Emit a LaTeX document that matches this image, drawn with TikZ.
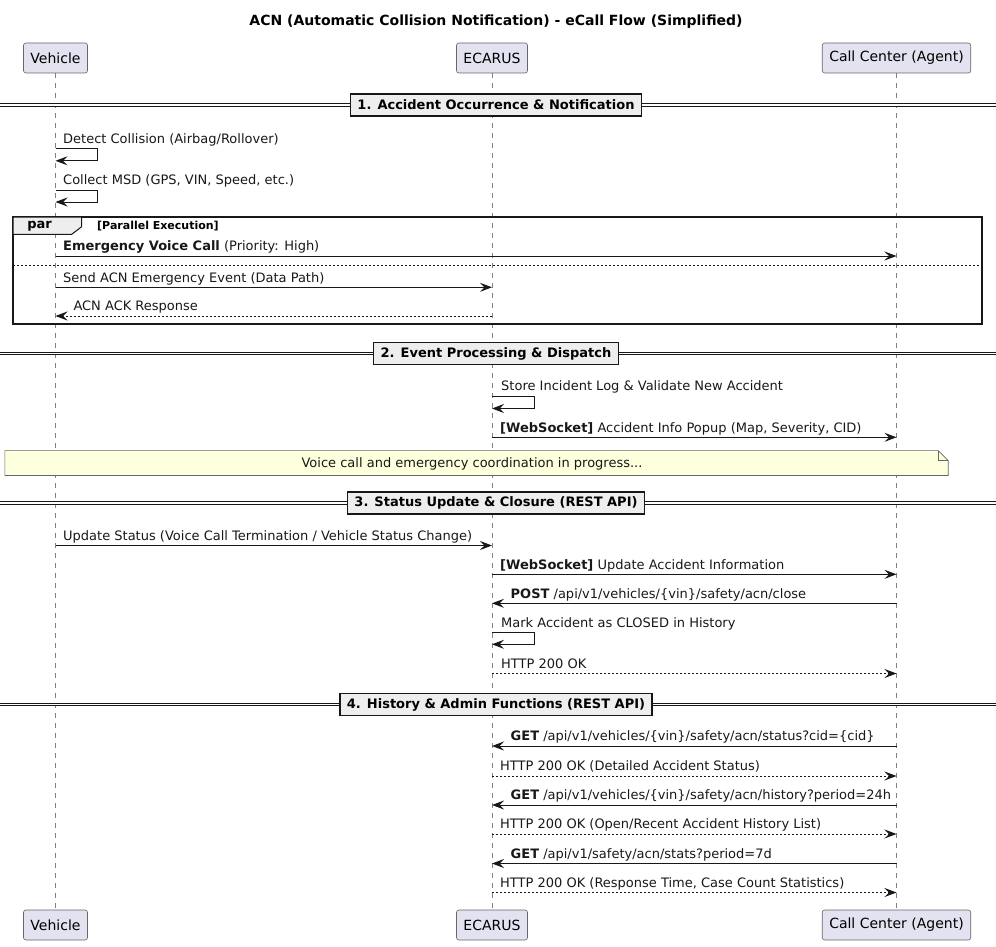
\documentclass[tikz,border=0pt]{standalone}
\usepackage{fontspec}
\setmainfont{DejaVu Sans}
\usetikzlibrary{arrows.meta}

\definecolor{partfill}{HTML}{E2E2F0}
\definecolor{linecol}{HTML}{181818}
\definecolor{grpfill}{HTML}{EEEEEE}
\definecolor{notefill}{HTML}{FEFFDD}

\begin{document}
\begin{tikzpicture}[
    x=1pt, y=-1pt,
    part/.style={draw=gray!80!black, line width=0.6pt, fill=partfill, rounded corners=2.5pt,
        minimum height=30pt, inner xsep=7pt, font=\fontsize{14}{16}\selectfont},
    life/.style={draw=gray, line width=0.6pt, dash pattern=on 5pt off 5pt},
    msg/.style={draw=linecol, line width=1pt, -{Stealth[length=12pt, width=9pt, inset=4.5pt]}},
    reply/.style={msg, dash pattern=on 2pt off 2pt},
    lbl/.style={anchor=south west, inner xsep=0pt, inner ysep=2pt, text height=10pt,
        text depth=3pt, font=\fontsize{13}{15}\selectfont, text=linecol},
    sect/.style={draw=linecol, line width=1.5pt, fill=grpfill, minimum height=22pt,
        inner xsep=7pt, font=\bfseries\fontsize{13}{15}\selectfont},
    sepline/.style={draw=linecol, double, double distance=1.8pt, line width=1pt}
]
\useasboundingbox (0,0) rectangle (996,947);
\coordinate (L) at (0,0);
\coordinate (R) at (996,0);

% title
\node[font=\bfseries\fontsize{14}{16}\selectfont] (title) at (496,22)
    {ACN (Automatic Collision Notification) - eCall Flow (Simplified)};

% participants
\node[part] (vehT) at (55.5,58) {Vehicle};
\node[part] (ecaT) at (492,58) {ECARUS};
\node[part] (ccT) at (896.5,58) {Call Center (Agent)};
\node[part] (vehB) at (55.5,925) {Vehicle};
\node[part] (ecaB) at (492,925) {ECARUS};
\node[part] (ccB) at (896.5,925) {Call Center (Agent)};

\draw[life] (vehT) -- (vehB);
\draw[life] (ecaT) -- (ecaB);
\draw[life] (ccT) -- (ccB);

% 1. accident occurrence
\node[sect] (sec1) at (496,105) {1. Accident Occurrence \& Notification};
\draw[sepline] (L |- sec1) -- (sec1.west);
\draw[sepline] (sec1.east) -- (R |- sec1);

\node[lbl] (detect) at (63,148.3) {Detect Collision (Airbag/Rollover)};
\draw[msg] (vehT |- detect.south) -- ++(42,0) -- ++(0,12.5) -- ++(-42,0);
\node[lbl] (collect) at (63,190) {Collect MSD (GPS, VIN, Speed, etc.)};
\draw[msg] (vehT |- collect.south) -- ++(42,0) -- ++(0,12) -- ++(-42,0);

% par block
\coordinate (parNW) at (13,217);
\coordinate (parSE) at (982,324);
\draw[linecol, line width=1.5pt] (parNW) rectangle (parSE);
\draw[linecol, line width=1pt, fill=grpfill] (parNW) -- (81.7,217) -- (81.7,226.7)
    -- (71.7,234.3) -- (13,234.3) -- cycle;
\node[font=\bfseries\fontsize{13}{15}\selectfont] (partag) at (39.5,226) {par};
\node[anchor=west, inner sep=0pt, font=\bfseries\fontsize{11}{13}\selectfont] (guard)
    at (97,226) {[Parallel Execution]};

\node[lbl] (voice) at (63,256) {{\bfseries Emergency Voice Call} (Priority: High)};
\draw[msg] (vehT |- voice.south) -- (ccT |- voice.south);
\draw[linecol, line width=0.7pt, dash pattern=on 2pt off 2pt] (13,265.7) -- (982,265.7);
\node[lbl] (send) at (63,287.3) {Send ACN Emergency Event (Data Path)};
\draw[msg] (vehT |- send.south) -- (ecaT |- send.south);
\node[lbl] (ack) at (73.3,316) {ACN ACK Response};
\draw[reply] (ecaT |- ack.south) -- (vehT |- ack.south);

% 2. event processing
\node[sect] (sec2) at (496,353.5) {2. Event Processing \& Dispatch};
\draw[sepline] (L |- sec2) -- (sec2.west);
\draw[sepline] (sec2.east) -- (R |- sec2);

\node[lbl] (store) at (501,396) {Store Incident Log \& Validate New Accident};
\draw[msg] (ecaT |- store.south) -- ++(42,0) -- ++(0,12.5) -- ++(-42,0);
\node[lbl] (popup) at (500,437.3) {{\bfseries [WebSocket]} Accident Info Popup (Map, Severity, CID)};
\draw[msg] (ecaT |- popup.south) -- (ccT |- popup.south);

% note
\node[minimum width=943pt, minimum height=24.5pt, inner sep=0pt] (prog) at (476.5,463) {};
\draw[draw=gray!80!black, line width=0.6pt, fill=notefill] (prog.north west)
    -- ([xshift=-10pt]prog.north east) -- ([yshift=-10pt]prog.north east)
    -- (prog.south east) -- (prog.south west) -- cycle;
\draw[draw=gray!80!black, line width=0.6pt] ([xshift=-10pt]prog.north east)
    -- ([xshift=-10pt, yshift=-10pt]prog.north east) -- ([yshift=-10pt]prog.north east);
\node[font=\fontsize{13}{15}\selectfont, text=linecol] (progtxt) at (472,463.5)
    {Voice call and emergency coordination in progress...};

% 3. status update
\node[sect] (sec3) at (496,503) {3. Status Update \& Closure (REST API)};
\draw[sepline] (L |- sec3) -- (sec3.west);
\draw[sepline] (sec3.east) -- (R |- sec3);

\node[lbl] (update) at (63,545.5) {Update Status (Voice Call Termination / Vehicle Status Change)};
\draw[msg] (vehT |- update.south) -- (ecaT |- update.south);
\node[lbl] (wsupd) at (500,574.3) {{\bfseries [WebSocket]} Update Accident Information};
\draw[msg] (ecaT |- wsupd.south) -- (ccT |- wsupd.south);
\node[lbl] (post) at (510.5,603.3) {{\bfseries POST} /api/v1/vehicles/\{vin\}/safety/acn/close};
\draw[msg] (ccT |- post.south) -- (ecaT |- post.south);
\node[lbl] (mark) at (501,632.3) {Mark Accident as CLOSED in History};
\draw[msg] (ecaT |- mark.south) -- ++(42,0) -- ++(0,12) -- ++(-42,0);
\node[lbl] (ok1) at (501,673.5) {HTTP 200 OK};
\draw[reply] (ecaT |- ok1.south) -- (ccT |- ok1.south);

% 4. history and admin
\node[sect] (sec4) at (496,704.5) {4. History \& Admin Functions (REST API)};
\draw[sepline] (L |- sec4) -- (sec4.west);
\draw[sepline] (sec4.east) -- (R |- sec4);

\node[lbl] (get1) at (510.5,746) {{\bfseries GET} /api/v1/vehicles/\{vin\}/safety/acn/status?cid=\{cid\}};
\draw[msg] (ccT |- get1.south) -- (ecaT |- get1.south);
\node[lbl] (ok2) at (500,776) {HTTP 200 OK (Detailed Accident Status)};
\draw[reply] (ecaT |- ok2.south) -- (ccT |- ok2.south);
\node[lbl] (get2) at (510.5,805) {{\bfseries GET} /api/v1/vehicles/\{vin\}/safety/acn/history?period=24h};
\draw[msg] (ccT |- get2.south) -- (ecaT |- get2.south);
\node[lbl] (ok3) at (500,834) {HTTP 200 OK (Open/Recent Accident History List)};
\draw[reply] (ecaT |- ok3.south) -- (ccT |- ok3.south);
\node[lbl] (get3) at (510.5,863.5) {{\bfseries GET} /api/v1/safety/acn/stats?period=7d};
\draw[msg] (ccT |- get3.south) -- (ecaT |- get3.south);
\node[lbl] (ok4) at (500,892.5) {HTTP 200 OK (Response Time, Case Count Statistics)};
\draw[reply] (ecaT |- ok4.south) -- (ccT |- ok4.south);

\end{tikzpicture}
\end{document}
